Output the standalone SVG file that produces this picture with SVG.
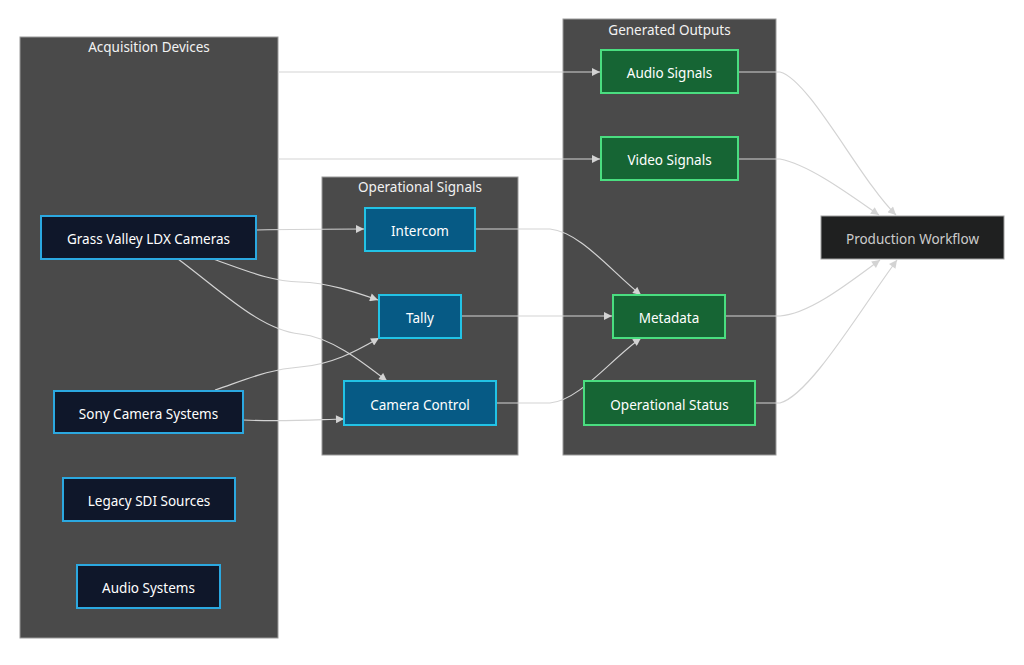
<svg xmlns="http://www.w3.org/2000/svg" width="1024" height="665" viewBox="0 0 1024 665">
<defs>
<marker id="arr" viewBox="0 0 10 10" refX="10" refY="5" markerWidth="9" markerHeight="8" markerUnits="userSpaceOnUse" orient="auto">
<path d="M0,0 L10,5 L0,10 z" fill="#d3d3d3"/>
</marker>
<style>
.cl{fill:#4a4a4a;stroke:#9a9a9a;stroke-width:1}
.ct{fill:#f2f2f2;font-family:"Trebuchet MS","Noto Sans","Liberation Sans",sans-serif;font-size:13.5px;text-anchor:middle}
.t{fill:#ffffff;font-family:"Trebuchet MS","Noto Sans","Liberation Sans",sans-serif;font-size:13.5px;text-anchor:middle;dominant-baseline:central}
.acq{fill:#0f172a;stroke:#2ba8e0;stroke-width:2}
.ops{fill:#065a85;stroke:#22c3e6;stroke-width:2}
.out{fill:#166534;stroke:#4ade80;stroke-width:2}
.pw{fill:#1f2020;stroke:#a0a0a0;stroke-width:1}
.e{fill:none;stroke:#d3d3d3;stroke-width:1.2;marker-end:url(#arr)}
</style>
</defs>
<rect width="1024" height="665" fill="#ffffff"/>
<g id="cluster-acquisition">
<rect class="cl" x="20" y="37" width="258" height="601"/>
<text class="ct" x="149" y="52">Acquisition Devices</text>
</g>
<g id="cluster-operational">
<rect class="cl" x="322" y="177" width="196" height="278"/>
<text class="ct" x="420" y="192">Operational Signals</text>
</g>
<g id="cluster-outputs">
<rect class="cl" x="563" y="19" width="213" height="436"/>
<text class="ct" x="669.5" y="35">Generated Outputs</text>
</g>
<g id="connectors">
<path class="e" d="M278,72 L600,72"/>
<path class="e" d="M278,159 L600,159"/>
<path class="e" d="M256,230 C300,229 330,229 364,229"/>
<path class="e" d="M213,259 C250,272 270,281 300,282 C330,283 355,292 378,300"/>
<path class="e" d="M178,259 C220,290 260,330 300,334 C330,337 360,360 387,381"/>
<path class="e" d="M215,390 C250,378 270,369 300,367 C330,365 355,352 379,338"/>
<path class="e" d="M243,420 C280,422 310,420 344,419"/>
<path class="e" d="M475,229 L550,229 C580,232 610,270 641,295"/>
<path class="e" d="M461,316 L612,316"/>
<path class="e" d="M496,403 L550,403 C580,400 610,360 641,338"/>
<path class="e" d="M738,72 L780,72 C810,80 860,180 896,215"/>
<path class="e" d="M738,159 L780,159 C810,165 850,195 879,215"/>
<path class="e" d="M725,316 L780,316 C810,314 850,282 880,260"/>
<path class="e" d="M755,403 L780,403 C810,395 860,310 897,260"/>
</g>
<g id="node-grass-valley">
<rect class="acq" x="41" y="216" width="215" height="43"/>
<text class="t" x="148.5" y="239">Grass Valley LDX Cameras</text>
</g>
<g id="node-sony">
<rect class="acq" x="54" y="391" width="189" height="42"/>
<text class="t" x="148.5" y="414">Sony Camera Systems</text>
</g>
<g id="node-legacy-sdi">
<rect class="acq" x="63" y="478" width="172" height="43"/>
<text class="t" x="149" y="501">Legacy SDI Sources</text>
</g>
<g id="node-audio-systems">
<rect class="acq" x="77" y="565" width="143" height="43"/>
<text class="t" x="148.5" y="588">Audio Systems</text>
</g>
<g id="node-intercom">
<rect class="ops" x="365" y="208" width="110" height="43"/>
<text class="t" x="420" y="231">Intercom</text>
</g>
<g id="node-tally">
<rect class="ops" x="379" y="295" width="82" height="43"/>
<text class="t" x="420" y="318">Tally</text>
</g>
<g id="node-camera-control">
<rect class="ops" x="344" y="381" width="152" height="44"/>
<text class="t" x="420" y="405">Camera Control</text>
</g>
<g id="node-audio-signals">
<rect class="out" x="601" y="50" width="137" height="43"/>
<text class="t" x="669.5" y="73">Audio Signals</text>
</g>
<g id="node-video-signals">
<rect class="out" x="601" y="137" width="137" height="43"/>
<text class="t" x="669.5" y="160">Video Signals</text>
</g>
<g id="node-metadata">
<rect class="out" x="613" y="295" width="112" height="43"/>
<text class="t" x="669" y="318">Metadata</text>
</g>
<g id="node-operational-status">
<rect class="out" x="584" y="381" width="171" height="44"/>
<text class="t" x="669.5" y="405">Operational Status</text>
</g>
<g id="node-production-workflow">
<rect class="pw" x="821" y="216" width="183" height="43"/>
<text class="t" x="912.5" y="239" style="fill:#cccccc">Production Workflow</text>
</g>
</svg>
